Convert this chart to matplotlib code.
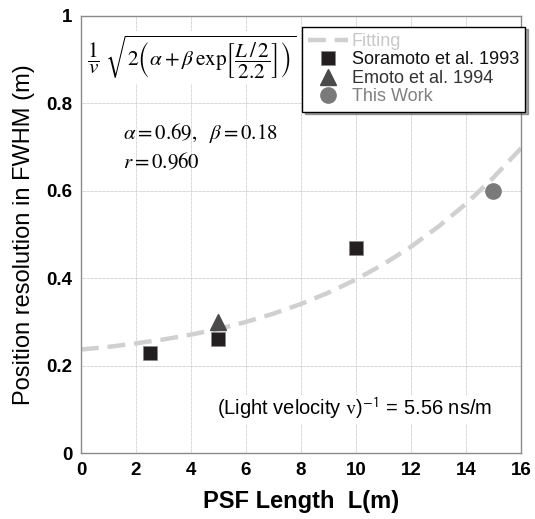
import matplotlib.pyplot as plt

plt.rcParams['font.family'] = ['Liberation Sans', 'DejaVu Sans']
plt.rcParams['mathtext.fontset'] = 'stix'

# data
fit_L = [0, 1, 2, 3, 4, 5, 6, 7, 8, 9, 10, 11, 12, 13, 14, 15, 16]
fit_res = [0.237, 0.243, 0.251, 0.260, 0.271, 0.284, 0.300, 0.319, 0.341,
           0.367, 0.397, 0.432, 0.472, 0.518, 0.570, 0.630, 0.697]
soramoto_L = [2.5, 5, 10]
soramoto_res = [0.23, 0.26, 0.47]
emoto_L = [5]
emoto_res = [0.30]
this_L = [15]
this_res = [0.60]

fig = plt.figure(figsize=(5.35, 5.19), dpi=100)
ax = fig.add_axes([0.1514, 0.1268, 0.8224, 0.843])

ax.plot(fit_L, fit_res, color='#d0d0d0', lw=3.2, dashes=(4, 2), label='Fitting', zorder=2)
ax.plot(soramoto_L, soramoto_res, 's', color='#231f20', ms=9.5, mec='#888888', mew=0.5,
        label='Soramoto et al. 1993', zorder=3)
ax.plot(emoto_L, emoto_res, '^', color='#4a4a4a', ms=11, label='Emoto et al. 1994', zorder=3)
ax.plot(this_L, this_res, 'o', color='#7a7a7a', ms=11, label='This Work', zorder=3)

ax.set_xlim(0, 16)
ax.set_ylim(0, 1)
ax.set_xticks(range(0, 17, 2))
ax.set_yticks([0, 0.2, 0.4, 0.6, 0.8, 1])
ax.set_yticklabels(['0', '0.2', '0.4', '0.6', '0.8', '1'])
ax.tick_params(length=0, labelsize=13.5, pad=6)
for t in ax.get_xticklabels() + ax.get_yticklabels():
    t.set_fontweight('bold')
ax.grid(True, color='#c4c4c4', lw=0.6, ls=(0, (1, 0.6)))
ax.set_axisbelow(True)
for s in ax.spines.values():
    s.set_color('#8a8a8a')
    s.set_linewidth(1.0)

ax.set_xlabel('PSF Length  L(m)', fontsize=17, fontweight='bold', labelpad=8)
ax.set_ylabel('Position resolution in FWHM (m)', fontsize=17, labelpad=8)

# fitting formula
ax.text(0.252, 0.905,
        r'$\dfrac{1}{v}\ \sqrt{2\left(\alpha+\beta\,\mathrm{exp}\left[\dfrac{L\,/\,2}{2.2}\right]\right)}$',
        transform=ax.transAxes, ha='center', va='center', fontsize=15.3,
        bbox=dict(facecolor='white', edgecolor='none', pad=2), zorder=4)
ax.text(0.095, 0.732, r'$\alpha = 0.69,\ \ \beta = 0.18$', transform=ax.transAxes,
        ha='left', va='center', fontsize=15)
ax.text(0.095, 0.666, r'$r = 0.960$', transform=ax.transAxes,
        ha='left', va='center', fontsize=15)

ax.text(0.935, 0.1, r'(Light velocity $\mathrm{v}$)$^{\mathsf{-1}}$ = 5.56 ns/m',
        transform=ax.transAxes, ha='right', va='center', fontsize=14.5,
        bbox=dict(facecolor='white', edgecolor='none', pad=1))

leg = ax.legend(loc='upper right', bbox_to_anchor=(1.01, 0.975), fontsize=13,
                frameon=True, fancybox=False, shadow=True, framealpha=1,
                edgecolor='black', borderpad=0.35, labelspacing=0.08,
                handlelength=2.2, handletextpad=0.2, borderaxespad=0)
leg.get_frame().set_linewidth(1.0)
label_colors = ['#c8c8c8', '#111111', '#333333', '#808080']
for txt, c in zip(leg.get_texts(), label_colors):
    txt.set_color(c)
leg.set_zorder(5)

fig.savefig('out.png', dpi=100)
